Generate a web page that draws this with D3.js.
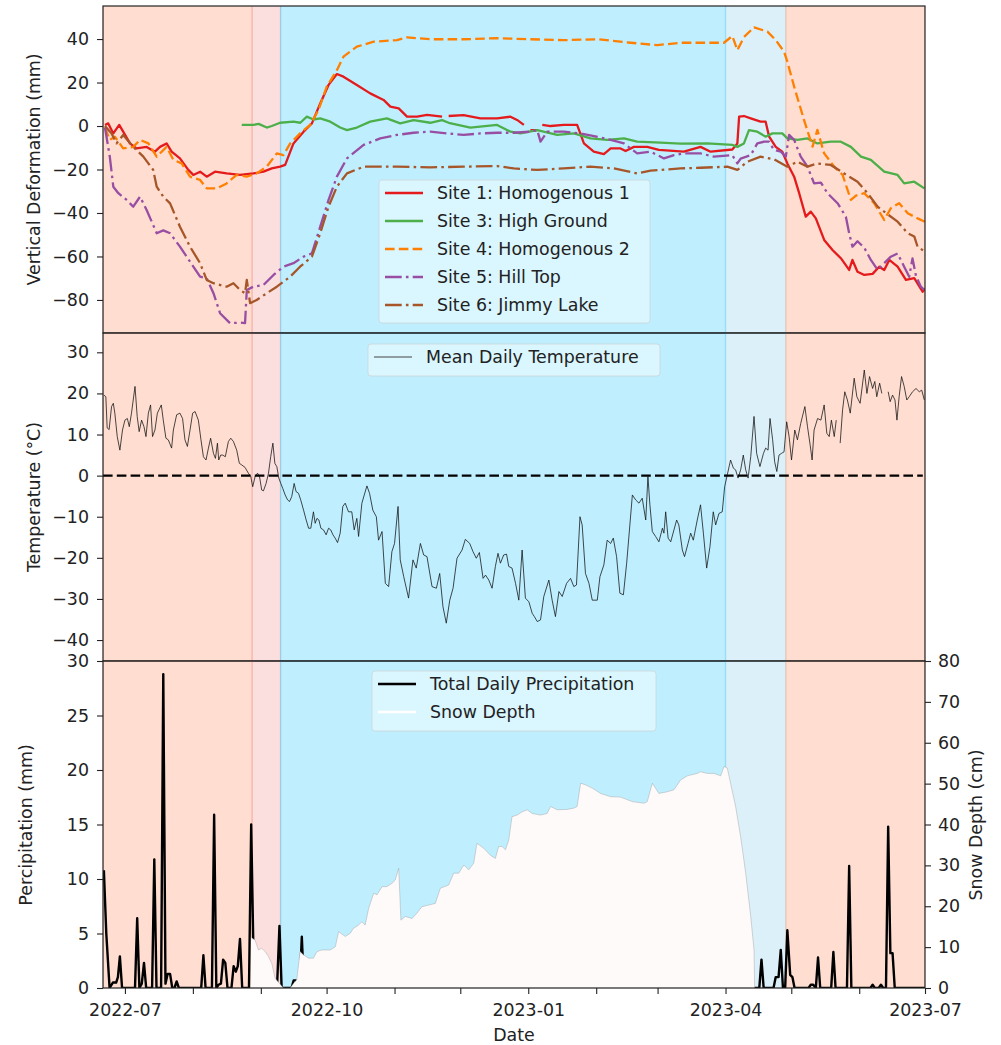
<!DOCTYPE html>
<html><head><meta charset="utf-8">
<script src="https://cdnjs.cloudflare.com/ajax/libs/d3/7.8.5/d3.min.js"></script>
<style>body{margin:0;background:#fff} text{font-family:"DejaVu Sans",sans-serif;fill:#222}</style>
</head><body><svg id="c" width="1001" height="1045"></svg>
<script>
// ---- DATA (day offsets from 2022-07-01) ----
const baseDate = "2022-07-01";
const xDomainDays = [-10, 365];
const seriesNames = ["Site 1: Homogenous 1","Site 3: High Ground","Site 4: Homogenous 2","Site 5: Hill Top","Site 6: Jimmy Lake"];
const periodStartDays = [-10, 58, 71, 274, 301.5];
const periodEndDays   = [58, 71, 274, 301.5, 365];

const site1 = [[-9.1,0.5],[-7.6,1.2],[-5.3,-3.4],[-2.6,0.5],[-0.8,-2.6],[2.3,-8],[5.3,-10.3],[9.9,-9.6],[13.7,-11.8],[16,-9.6],[19,-8],[21.3,-11.8],[25.1,-14.9],[28.9,-20.2],[31.2,-22.5],[34.3,-21],[37.3,-23.3],[41.1,-21],[46.4,-21.8],[52.5,-22.5],[58.6,-21.8],[63.2,-21],[67,-19.5],[70.8,-18.7],[73.1,-17.9],[76.9,-8],[81.5,-2.6],[85.3,1.2],[89.1,10.4],[92.9,18.9],[96.7,23.9],[99.7,22.7],[105.8,18.9],[111.9,15],[118,12],[121.1,8.9],[124.9,8.1],[128.7,4.3],[133.3,4.3],[137.8,5.1],[144.7,4.3],[146,null],[147.7,4.6],[154.5,5],[162.2,3.5],[169.8,3.5],[175.9,4.3],[178.9,2.8],[182,0.5],[183.5,null],[185,-1.9],[188.1,-1.9],[189,null],[190.4,0.5],[194.2,0],[200.2,0.5],[206.3,0.5],[209.4,-8],[213.9,-11.8],[218.5,-12.9],[221.6,-10.3],[226.1,-10.3],[228.4,-11.5],[232.2,-9.6],[238.3,-9.6],[243.6,-11],[255,-11.8],[262.6,-9.6],[267.2,-11.8],[277.1,-10.8],[279.4,-8],[280.2,4.3],[282.4,4.6],[285.5,3.5],[290,2],[292.3,2],[293.9,-4.9],[296.9,-9.6],[299.9,-11.8],[302.2,-17.2],[305.3,-23.3],[307.6,-30.9],[310.6,-41.7],[312.9,-39.4],[315.2,-42.5],[319,-52.4],[322.8,-57],[326.6,-60.8],[330.4,-66.2],[331.9,-61.6],[334.2,-67],[337.3,-68.5],[341.1,-68],[344.1,-64.7],[346.4,-66.2],[348.7,-61.6],[352.5,-64.7],[356.3,-70.8],[360.1,-70],[363.9,-76.2],[365,-74.8]];
const site3 = [[53.3,0.5],[58.6,0.5],[61,1],[64.7,-0.7],[67,0],[70.8,1.5],[76.9,2],[80,1.5],[83,4.3],[86,3],[89.1,3.5],[93.7,2],[98.2,-0.7],[101.3,-1.9],[105.8,-0.7],[111.9,2],[119.5,3.5],[125.6,1.2],[131.7,2.7],[139.3,1.5],[144.7,2.7],[147.7,1.5],[157.6,-0.7],[169.8,0.5],[175.9,-2.6],[180.4,-3.4],[188.1,-1.9],[197.2,-4.1],[204.8,-3.4],[212.4,-5.7],[220,-6.4],[227.7,-5.7],[233.7,-7.2],[244.4,-7.6],[253.5,-8.1],[265.7,-8],[277.1,-8.7],[279.4,-9.6],[282.4,-8],[284.7,-1.9],[288.5,-2.6],[292.3,-4.9],[295.4,-3.4],[299.9,-3.4],[302.2,-5.7],[306.8,-6.4],[311.4,-5.7],[315.9,-8],[322,-7.2],[326.6,-7.2],[331.2,-9.6],[335.8,-14.1],[340.3,-15.6],[346.4,-21],[352.5,-22.5],[355.5,-26.4],[360.1,-25.6],[364.7,-28.7]];
const site4 = [[-9.1,-0.7],[-6.9,-6.4],[-4.6,-4.9],[-0.8,-10.3],[3.8,-9.6],[6.9,-6.4],[10.7,-8],[14.5,-14.1],[19,-9.6],[22.1,-15.6],[25.9,-17.2],[29.7,-23.3],[34.3,-24.8],[37.3,-28.7],[41.9,-28.7],[46.4,-26.4],[51,-22.5],[55.6,-23.3],[60.1,-21.8],[64.7,-18.7],[69.3,-12.6],[72.3,-13.4],[75.4,-8],[79.9,-3.4],[84.5,0.5],[88.3,7.4],[92.1,18.2],[96.7,25.7],[99.7,31.9],[105.8,36.5],[113.5,38.8],[124.1,39.5],[128.7,40.8],[139.3,39.9],[154.5,39.9],[169.8,40.4],[185,39.9],[200.2,39.5],[215.5,39.9],[230.7,38.3],[242.9,37.2],[253.5,38.3],[273.3,38.3],[277.1,41.4],[279.4,34.9],[282.4,40.9],[287,45.4],[293.1,43.4],[296.9,39.5],[300.7,34.2],[302.2,29.6],[305.3,18.1],[309.8,2.8],[313.7,-9.5],[315.9,-1.8],[319,-12.6],[323.6,-18.7],[327.4,-22.5],[331.2,-34],[333.5,-32],[337.3,-30.9],[341.8,-35.5],[346.4,-43.2],[349.4,-37.8],[353.2,-35.5],[357.1,-40.1],[361.6,-42.5],[365,-44]];
const site5 = [[-9.1,-0.7],[-6.9,-14.1],[-5.3,-27.9],[-3,-30.9],[0.8,-34],[3.8,-37.1],[6.9,-32.5],[9.9,-38.6],[14.5,-49.3],[17.5,-48],[20.6,-49.3],[25.1,-55.5],[28.2,-60.1],[31.2,-64.7],[34.3,-69.3],[37.3,-70],[40.4,-76.9],[43.4,-86.1],[48,-90.7],[52.5,-90.4],[54.8,-90.7],[55.6,-75.4],[58.6,-73.9],[63.2,-73.1],[67.8,-68.5],[72.3,-64.7],[76.9,-63.1],[81.5,-60.1],[85.3,-58.6],[89.1,-46.3],[92.9,-34],[96.7,-23.3],[101.3,-14.9],[108.9,-8.7],[116.5,-5.7],[124.1,-4.1],[131.7,-3.1],[139.3,-2.6],[146.9,-3.4],[154.5,-4.1],[162.2,-3.4],[169.8,-3.1],[177.4,-3.1],[185,-2.6],[188.1,-1.9],[189.6,-7.2],[192.6,-2.6],[200.2,-2.6],[207.9,-3.4],[214,-4.6],[221.6,-6.4],[227.7,-8],[233.7,-12.6],[239.8,-11.8],[245.9,-14.9],[250.5,-13.4],[255,-12.6],[262.6,-12.6],[268.7,-14.1],[277.1,-13.4],[279.4,-17.2],[280.9,-15],[285.5,-13.4],[288.5,-8],[291.6,-7.2],[293.9,-7.2],[296.1,-11],[299.2,-11.8],[301.5,-14.1],[303,-4.1],[305.3,-6.4],[308.3,-14.1],[311.4,-18.7],[314.4,-26.4],[317.5,-26],[320.5,-30.9],[325.1,-35.5],[328.9,-41.7],[330.4,-49.3],[331.9,-55.5],[334.2,-53],[337.3,-56],[340.3,-61.6],[343.4,-66.2],[346.4,-63.1],[349.4,-60.1],[352.5,-58.6],[355.5,-64.7],[357.8,-69.3],[359.3,-60.9],[360.9,-69],[363.1,-73.9],[364.7,-75.4]];
const site6 = [[-9.1,0],[-6.1,-3.4],[-3.8,-8],[-0.8,-4.1],[3.8,-9.6],[8.4,-14.1],[12.9,-20.2],[14.5,-27.9],[17.5,-32.5],[20.6,-35.6],[25.1,-46.3],[29.7,-55.5],[34.3,-63.1],[37.3,-70.8],[40.4,-72.3],[46.4,-73.9],[49.5,-72.3],[52.5,-75.4],[54.8,-76.9],[55.6,-70.8],[57.1,-81.5],[60.1,-80],[64.7,-76.9],[69.3,-73.9],[75.4,-69.3],[79.9,-64.7],[85.3,-60.1],[89.1,-49.3],[92.9,-37.1],[96.7,-27.9],[101.3,-21.8],[108.9,-18.7],[124.1,-18.7],[139.3,-19],[154.5,-18.7],[169.8,-18.4],[177.4,-19.5],[188.1,-20.2],[200.2,-19.5],[212.4,-18.7],[223.1,-19.5],[233.7,-21.8],[239.8,-20.5],[253.5,-19.5],[262.6,-19.2],[274.8,-18.7],[279.4,-20.2],[284,-16.4],[290,-14.1],[296.1,-15.3],[302.2,-18.7],[306.8,-16.4],[311.4,-18.7],[315.9,-17.2],[322,-17.9],[328.1,-21.8],[334.2,-25.6],[338.8,-30.9],[343.4,-37.1],[346.4,-39.4],[352.5,-44],[357.1,-49.3],[360.1,-50.8],[361.6,-55.5],[365,-57.8]];

const temperature = [[-9.6,19.6],[-8.7,19.2],[-8.1,11.6],[-7.2,11.2],[-6.1,16.8],[-5.3,17.6],[-4.6,15.2],[-3.5,9.5],[-2.3,6.2],[-1.1,11.1],[0,13.5],[1.1,13.9],[2,11.9],[3,15.2],[4.6,21.7],[5.6,14.4],[6.5,10.7],[7.6,13.5],[8.7,11.9],[9.6,9.5],[10.7,15.2],[11.7,17.2],[12.6,9.5],[13.7,11.1],[14.8,15.2],[16.6,17.2],[17.5,13.5],[18.7,9.1],[19.8,8.7],[21.3,6.7],[22.1,11.1],[23.6,14.8],[25.1,15.2],[26.3,13.9],[27.4,8.7],[28.5,7.1],[29.7,11.1],[30.9,15.2],[32,15.6],[33.5,13.5],[34.7,8.7],[35.8,4.6],[37,3.8],[38.1,6.7],[39.1,9.1],[40.4,5.4],[41.3,4.2],[42.2,7.9],[42.8,3.8],[43.7,5],[44.6,5],[45.8,4.6],[47.2,8.3],[48.3,9.1],[49.5,8.3],[51,6.2],[52.2,3],[53.3,2.6],[54.8,2],[56.3,0.6],[57.4,-0.2],[58.3,-2.7],[59.4,-0.2],[60.5,0.6],[61.4,-0.2],[62.4,-3.5],[63.2,-3.7],[64.4,-1.9],[65.5,0.6],[66.5,4.6],[67.5,7.9],[68.4,3],[69.3,2.2],[70.2,-0.6],[71.1,-1.9],[72,-3.1],[73.1,-4.7],[74.2,-5.9],[75.1,-6.3],[76.1,-5.1],[77.2,-1.9],[78.1,-3.9],[79.2,-4.3],[80.2,-5.9],[81.5,-8.4],[82.7,-10.8],[83.8,-12.8],[84.8,-12.8],[86,-8.8],[86.8,-11.6],[87.6,-10.4],[88.5,-10.8],[89.4,-12.8],[90.6,-13.2],[91.8,-14.4],[92.9,-12.8],[93.9,-13.2],[94.9,-14.4],[95.9,-15.2],[97,-16.3],[98.2,-14],[99.4,-7.5],[100.5,-6.7],[102,-8.8],[103.5,-8.8],[104.6,-13.2],[105.8,-10.4],[106.6,-14.8],[108.1,-6.7],[110.4,-2.5],[111.6,-4.3],[113.1,-8.4],[114.7,-10],[115.7,-15.7],[117.3,-13.6],[118.8,-26.2],[120.3,-27],[121.8,-18.5],[123,-16.5],[124.6,-7.5],[125.6,-20.5],[127.2,-24.6],[129.4,-29.8],[131.4,-20.5],[132.9,-22.5],[134.8,-16.5],[136.3,-19.3],[137.8,-19.7],[140.1,-27],[142.1,-27.4],[143.6,-23.8],[145.1,-31.9],[146.6,-35.9],[148.2,-30.3],[149.7,-27.4],[151.5,-20.1],[153.8,-18.1],[155.3,-15.5],[157.3,-16.5],[158.8,-18.5],[160.3,-20.1],[161.7,-18.7],[163.4,-25],[164.5,-24.2],[166,-25.4],[167.5,-27.4],[169,-22.1],[170.2,-18.9],[171.3,-21.3],[172.8,-19.3],[174.1,-19.1],[175.1,-22.1],[176.6,-22.5],[178.2,-26.2],[179.7,-30.3],[181.2,-18.1],[182.7,-29.8],[184.3,-30.7],[185.8,-33.5],[186.8,-34.3],[188.1,-35.5],[189.6,-35.1],[191.1,-29.4],[193.4,-25.4],[194.9,-30.3],[196.4,-34.3],[198,-28.2],[199.5,-29.4],[201.5,-26.2],[203.3,-25],[204.8,-27],[206,-26.6],[207.6,-10],[208.6,-12],[210.1,-23.8],[211.7,-26.2],[213.2,-30.3],[215.5,-30.3],[216.7,-24.6],[218.5,-21.7],[220,-15.7],[221.6,-16.5],[222.8,-15.2],[224.3,-19.7],[225.8,-28.6],[227.4,-29],[228.9,-21.3],[231.5,-4.7],[233,-5.9],[234.5,-6.7],[236,-5.5],[237.6,-10.8],[238.6,-0.2],[239.5,-7.1],[240.6,-13.6],[242.1,-14.8],[243.6,-16.1],[245.2,-12.8],[245.9,-14],[246.7,-8.8],[247.8,-15.2],[249,-16.1],[251.7,-10.8],[252.7,-12],[254.3,-18.1],[255.3,-19.7],[256.9,-16.5],[258.1,-14],[259.3,-15.7],[261.1,-10.8],[262.6,-7.1],[263.9,-14],[265.4,-22.5],[266.9,-17.3],[268.4,-8.8],[269.5,-12],[271,-9.2],[272.5,-8.8],[273.6,-2.7],[274.8,0.2],[276.3,3.8],[277.6,1.8],[278.6,1.4],[279.7,-0.6],[280.9,1.4],[282.1,5],[283.2,1.4],[284.3,-0.6],[285.5,4.6],[287,14.4],[288.2,5.4],[289.7,2.2],[291.3,5.4],[292.3,6.7],[293.4,6.2],[294.3,13.9],[295.5,8.7],[296.4,3.4],[297.4,1],[298.4,5],[299.5,5.4],[300.7,5.8],[301.9,13.1],[303,9.5],[304.1,3.8],[305.6,11.1],[306.8,8.7],[308.3,12.7],[310.2,16.8],[311.4,11.9],[312.6,7.5],[313.5,3.8],[314.4,11.1],[316,13.9],[317.5,13.5],[319,17.2],[320.2,10.3],[321.3,9.5],[322.3,13.5],[323.6,9.5],[324.5,13.5],[325.4,null],[326.3,7.9],[327.4,16],[328.4,20.4],[329.6,18.4],[330.9,15.2],[332.7,23.7],[333.9,19.2],[335.4,17.6],[337.3,25.7],[338.5,20],[339.7,24.1],[341.1,21.2],[342.1,22.9],[343,19.2],[344.3,22.5],[345.3,20],[346.7,null],[348.2,20.4],[349.1,18],[350.2,19.6],[351.3,18.4],[352.2,13.5],[353.2,19.2],[354.3,24.1],[355.5,21.7],[356.7,18.4],[357.8,19.2],[359.3,20.4],[360.9,21.2],[362.4,20.4],[363.5,20.8],[364.7,18.4]];
const freezingLine = [[-10,0],[364,0]];

const precipitation = [[-9.6,10.8],[-8.5,5],[-7,0],[-5.5,0.5],[-4,0.5],[-3.2,1],[-2.3,2.9],[-1.3,0],[4.6,0],[5.6,6.4],[6.6,0],[7.7,0.4],[8.7,2.3],[9.7,0],[12.4,0],[13.4,11.8],[14.4,0],[16.5,0],[17.5,28.8],[18.5,0.4],[19.5,1.3],[20.6,1.3],[21.6,0],[22.6,0],[23.6,0.6],[24.6,0],[34.8,0],[35.8,3],[36.8,0],[39.7,0],[40.7,15.9],[41.7,0],[42.7,0.3],[43.8,0.4],[44.8,2.6],[45.8,2.3],[46.8,0],[48.6,0],[49.6,2],[50.6,1.5],[51.5,2],[52.5,4.5],[53.5,0],[56.6,0],[57.6,15],[58.6,3.6],[59.6,0],[68.5,0],[69.5,0.6],[70.5,5.7],[71.5,0],[76,0],[77,0.7],[78,0.7],[79,0],[79.7,0],[80.7,4.7],[81.7,0],[289.4,0],[290.4,2.6],[291.4,0],[295.9,0],[296.9,1],[298.2,1],[299.2,3.5],[300.2,0],[301.2,0],[302.2,5.3],[303.5,1.2],[304.5,1],[305.5,0],[311.9,0],[312.9,0.3],[314,0.3],[315.2,0],[316.2,2.8],[317.2,0],[322.2,0],[323.2,3.3],[324.2,0],[329.4,0],[330.4,11.2],[331.4,0],[340.1,0],[341.1,0.3],[342.1,0],[343.9,0],[344.9,0.3],[345.9,0],[347.2,0],[348.2,14.8],[349.2,3.2],[350.2,3.2],[351.2,0],[365,0]];
const snowDepth = [[57.5,12.4],[59.4,11.7],[60.9,9.3],[62.4,9.7],[64,8.9],[65.5,7.7],[67,6],[68.5,2.4],[70.5,1.1],[72.3,0],[75.4,0],[76.9,1.1],[78.4,2],[79.9,8.9],[81.5,8.1],[83.8,7.3],[86,7.3],[87.6,8.9],[89.8,9.3],[93.7,9.3],[96,10.1],[97.5,13.8],[100.5,12.6],[102.8,13.4],[104.3,14.6],[106.6,15.4],[108.1,16.2],[109.6,15.4],[111.2,19.5],[113.5,23.2],[115,22.8],[117.3,24.8],[119.5,24.8],[121.8,25.6],[123.3,26.4],[124.9,29.3],[125.9,16.6],[127.9,17.5],[131,17],[133.2,18.3],[135.5,19.9],[138.6,20.3],[141.6,20.7],[143.9,24.4],[147.7,25.2],[150,28.1],[152.3,28.1],[154.6,30.1],[156.8,28.9],[159.1,30.5],[160.6,35.4],[163.7,34.2],[166.7,32.5],[169,31.7],[170.5,34.6],[172.1,34.6],[173.6,33.8],[175.1,36.2],[176.6,41.9],[178.9,42.3],[181.2,43.1],[183.5,43.6],[185.8,42.7],[189.6,42.3],[192.6,42.7],[194.2,44.4],[197.2,43.6],[201.8,43.7],[204.8,44],[206.3,44.4],[207.9,50.1],[210.1,49.7],[213.2,48.9],[217,47.6],[221.6,46.8],[226.1,46.7],[231.5,45.6],[236.8,45.2],[238.3,45.6],[240.6,50.1],[243.6,47.6],[247.4,48],[250.5,48.5],[253.5,50.9],[256.6,51.9],[261.1,52.5],[262.6,52.9],[265.7,52.5],[268.7,52.5],[271.8,51.9],[273.3,54.2],[274.8,53.8],[276.3,50.1],[278.6,44.4],[280.9,37],[283.2,28.1],[285.5,17.5],[287,9.3],[287.3,0]];

const deformTicks = [-80,-60,-40,-20,0,20,40];
const tempTicks = [-40,-30,-20,-10,0,10,20,30];
const precipTicks = [0,5,10,15,20,25,30];
const snowTicks = [0,10,20,30,40,50,60,70,80];
const labelledMonths = ["2022-07","2022-10","2023-01","2023-04","2023-07"];

// ---- STYLE ----
const periodColors = ["#ffa07a","#f08080","#00bfff","#87ceeb","#ffa07a"];
const periodAlpha = [0.35,0.25,0.25,0.3,0.35];
const siteColors = ["#e41a1c","#4daf4a","#ff7f00","#984ea3","#a65628"];
const siteDash = [null,null,"9.6,4.2","16.7,4.2,2.6,4.2","16.7,4.2,2.6,4.2"];
const FS = 17.4;

const svg = d3.select("#c");
const L = 103, R = 925;
const panels = [[6,333],[333,661],[661,988]];
const t0 = new Date(baseDate + "T00:00:00Z");
const toDate = d => new Date(t0.getTime() + d*864e5);
const x = d3.scaleUtc().domain(xDomainDays.map(toDate)).range([L,R]);

const yDef = d3.scaleLinear().domain([-95.2,55.2]).range([panels[0][1],panels[0][0]]);
const yTmp = d3.scaleLinear().domain([-45.1,34.7]).range([panels[1][1],panels[1][0]]);
const yPr  = d3.scaleLinear().domain([0,30]).range([panels[2][1],panels[2][0]]);
const ySn  = d3.scaleLinear().domain([0,80]).range([panels[2][1],panels[2][0]]);

const defs = svg.append("defs");
panels.forEach((p,i)=>{
  defs.append("clipPath").attr("id","clip"+i).append("rect").attr("x",L).attr("y",p[0]).attr("width",R-L).attr("height",p[1]-p[0]);
});

function drawSpans(i){
  const g = svg.append("g").attr("clip-path",`url(#clip${i})`);
  const p = panels[i];
  periodStartDays.forEach((s,k)=>{
    const x0 = x(toDate(s)), x1 = x(toDate(periodEndDays[k]));
    g.append("rect").attr("x",x0).attr("y",p[0]).attr("width",x1-x0).attr("height",p[1]-p[0])
      .attr("fill",periodColors[k]).attr("fill-opacity",periodAlpha[k]);
    [x0,x1].forEach(xx=>{
      g.append("line").attr("x1",xx).attr("x2",xx).attr("y1",p[0]).attr("y2",p[1])
        .attr("stroke",periodColors[k]).attr("stroke-opacity",periodAlpha[k]).attr("stroke-width",1.3);
    });
  });
}
function lineGen(y){ return d3.line().defined(d=>d[1]!==null).x(d=>x(toDate(d[0]))).y(d=>y(d[1])); }

function yAxis(i, scale, ticks, right){
  const ax = right ? d3.axisRight(scale) : d3.axisLeft(scale);
  ax.tickValues(ticks).tickSize(6).tickPadding(right?7:8).tickFormat(d=>d3.format("")(d).replace("-","\u2212"));
  const g = svg.append("g").attr("transform",`translate(${right?R:L},0)`).call(ax);
  g.select(".domain").remove();
  g.selectAll(".tick line").attr("stroke","#222").attr("stroke-width",1.1);
  g.selectAll(".tick text").attr("font-size",FS).attr("fill","#222");
}
function frame(i){
  const p = panels[i];
  svg.append("rect").attr("x",L).attr("y",p[0]).attr("width",R-L).attr("height",p[1]-p[0])
    .attr("fill","none").attr("stroke","#222").attr("stroke-width",1.2);
}
function legend(x0,y0,w,h,items){
  const g = svg.append("g");
  g.append("rect").attr("x",x0).attr("y",y0).attr("width",w).attr("height",h).attr("rx",3)
    .attr("fill","#fff").attr("fill-opacity",0.42).attr("stroke","#ccc").attr("stroke-opacity",0.6);
  items.forEach((it,k)=>{
    const yy = y0 + 13 + k*28;
    g.append("line").attr("x1",x0+6).attr("x2",x0+44).attr("y1",yy).attr("y2",yy)
      .attr("stroke",it.color).attr("stroke-width",it.w).attr("stroke-dasharray",it.dash||null).attr("stroke-opacity",it.op||1);
    g.append("text").attr("x",x0+58).attr("y",yy).attr("dy","0.36em").attr("font-size",FS).text(it.label);
  });
}

// Panel 1
drawSpans(0);
const g1 = svg.append("g").attr("clip-path","url(#clip0)");
[site1,site3,site4,site5,site6].forEach((s,k)=>{
  g1.append("path").datum(s).attr("d",lineGen(yDef)).attr("fill","none")
    .attr("stroke",siteColors[k]).attr("stroke-width",2.3).attr("stroke-dasharray",siteDash[k]).attr("stroke-linejoin","round");
});
legend(379,180,271,143, seriesNames.map((n,k)=>({label:n,color:siteColors[k],dash:siteDash[k],w:2.3})));
frame(0); yAxis(0,yDef,deformTicks,false);

// Panel 2
drawSpans(1);
const g2 = svg.append("g").attr("clip-path","url(#clip1)");
g2.append("path").datum(temperature).attr("d",lineGen(yTmp)).attr("fill","none").attr("stroke","#111").attr("stroke-width",0.9).attr("stroke-opacity",0.85);
g2.append("path").datum(freezingLine).attr("d",lineGen(yTmp)).attr("fill","none").attr("stroke","#000").attr("stroke-width",2.4).attr("stroke-dasharray","9.6,4.2");
legend(368,344,292,32,[{label:"Mean Daily Temperature",color:"#444",w:1.1}]);
frame(1); yAxis(1,yTmp,tempTicks,false);

// Panel 3
drawSpans(2);
const g3 = svg.append("g").attr("clip-path","url(#clip2)");
g3.append("path").datum(precipitation).attr("d",lineGen(yPr)).attr("fill","none").attr("stroke","#000").attr("stroke-width",2.4).attr("stroke-linejoin","round");
const area = d3.area().x(d=>x(toDate(d[0]))).y0(ySn(0)).y1(d=>ySn(d[1]));
g3.append("path").datum(snowDepth).attr("d",area).attr("fill","#fffafa");
g3.append("path").datum(snowDepth).attr("d",lineGen(ySn)).attr("fill","none").attr("stroke","#999").attr("stroke-width",0.6).attr("stroke-opacity",0.7);
legend(372,671,284,60,[{label:"Total Daily Precipitation",color:"#000",w:2.6},{label:"Snow Depth",color:"#fff",w:2.6}]);
frame(2); yAxis(2,yPr,precipTicks,false); yAxis(2,ySn,snowTicks,true);

// X axis (bottom panel)
const monthTicks = d3.utcMonth.range(toDate(0), toDate(366));
const fmt = d3.utcFormat("%Y-%m");
const xa = d3.axisBottom(x).tickValues(monthTicks).tickSize(6).tickPadding(9.5)
  .tickFormat(d=> labelledMonths.includes(fmt(d)) ? fmt(d) : "");
const gx = svg.append("g").attr("transform",`translate(0,${panels[2][1]})`).call(xa);
gx.select(".domain").remove();
gx.selectAll(".tick line").attr("stroke","#222").attr("stroke-width",1.1);
gx.selectAll(".tick text").attr("font-size",FS).attr("fill","#222");

// axis titles
function vtitle(xx,yy,t,rot){
  svg.append("text").attr("transform",`translate(${xx},${yy}) rotate(${rot})`).attr("text-anchor","middle")
    .attr("dy","0.36em").attr("font-size",FS).text(t);
}
vtitle(34,169.5,"Vertical Deformation (mm)",-90);
vtitle(34,497,"Temperature (\u00b0C)",-90);
vtitle(26,825,"Percipitation (mm)",-90);
vtitle(976,825,"Snow Depth (cm)",-90);
svg.append("text").attr("x",514).attr("y",1041).attr("text-anchor","middle").attr("font-size",FS).text("Date");
</script></body></html>
